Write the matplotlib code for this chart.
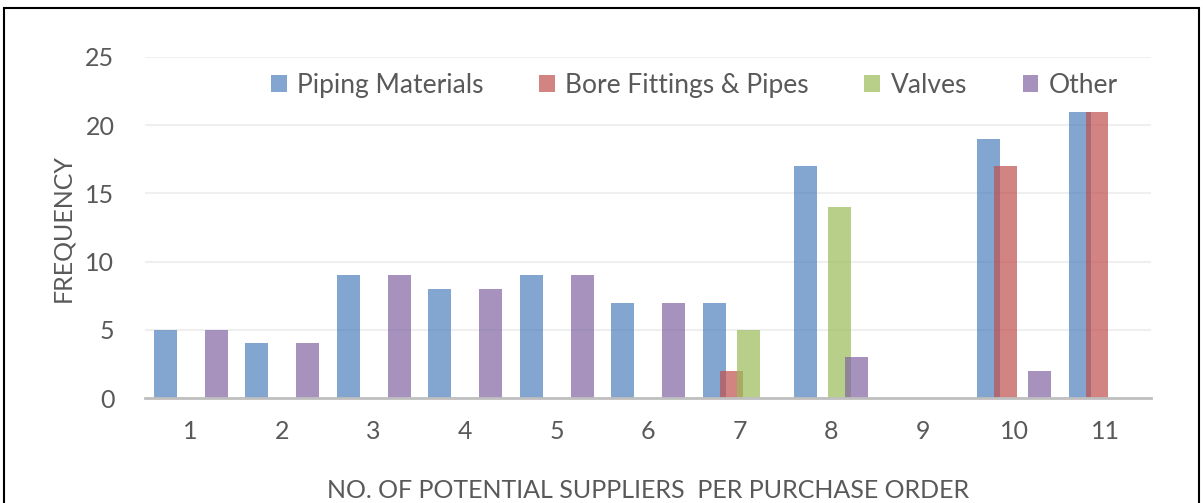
import matplotlib.pyplot as plt
import numpy as np
from matplotlib.patches import Rectangle

plt.rcParams['font.family'] = ['Lato', 'DejaVu Sans']

cats = ['1', '2', '3', '4', '5', '6', '7', '8', '9', '10', '11']
piping = [5, 4, 9, 8, 9, 7, 7, 17, 0, 19, 21]
bore = [0, 0, 0, 0, 0, 0, 2, 0, 0, 17, 21]
valves = [0, 0, 0, 0, 0, 0, 5, 14, 0, 0, 0]
other = [5, 4, 9, 8, 9, 7, 0, 3, 0, 2, 0]

names = ['Piping Materials', 'Bore Fittings & Pipes', 'Valves', 'Other']
colors = ['#4F81BD', '#C0504D', '#9BBB59', '#8064A2']
series = [piping, bore, valves, other]

fig = plt.figure(figsize=(12.03, 5.03), dpi=100)
ax = fig.add_axes([0.1205, 0.2087, 0.8365, 0.678])

x = np.arange(len(cats))
step = 0.186
w = 0.25
for i, (vals, nm, c) in enumerate(zip(series, names, colors)):
    ax.bar(x + (i - 1.5) * step, vals, w, color=c, alpha=0.7, label=nm,
           edgecolor='none', zorder=3)

ax.set_xlim(-0.5, len(cats) - 0.5)
ax.set_ylim(0, 25)
ax.set_yticks(range(0, 26, 5))
ax.set_xticks(x)
ax.set_xticklabels(cats)
ax.grid(axis='y', color='#EFEFEF', linewidth=1.5, zorder=0)
for s in ['top', 'right', 'left']:
    ax.spines[s].set_visible(False)
ax.spines['bottom'].set_color('#BFBFBF')
ax.spines['bottom'].set_linewidth(2)
ax.spines['bottom'].set_zorder(4)
ax.tick_params(length=0, labelsize=18, labelcolor='#595959')
ax.tick_params(axis='x', pad=16)
ax.tick_params(axis='y', pad=22)
ax.set_ylabel('FREQUENCY', fontsize=18, color='#595959', labelpad=8)
ax.set_xlabel('NO. OF POTENTIAL SUPPLIERS  PER PURCHASE ORDER', fontsize=18,
              color='#595959', labelpad=26)

ax.legend(loc='center', bbox_to_anchor=(0.546, 0.917), ncol=4, frameon=False,
          fontsize=19, labelcolor='#595959', handlelength=0.6, handleheight=0.6,
          handletextpad=0.4, columnspacing=2.1, borderpad=0, borderaxespad=0)

fig.patches.append(Rectangle((0.003, -0.1), 0.994, 1.084, transform=fig.transFigure,
                             fill=False, edgecolor='black', linewidth=1.5))

fig.savefig('out.png', dpi=100)
